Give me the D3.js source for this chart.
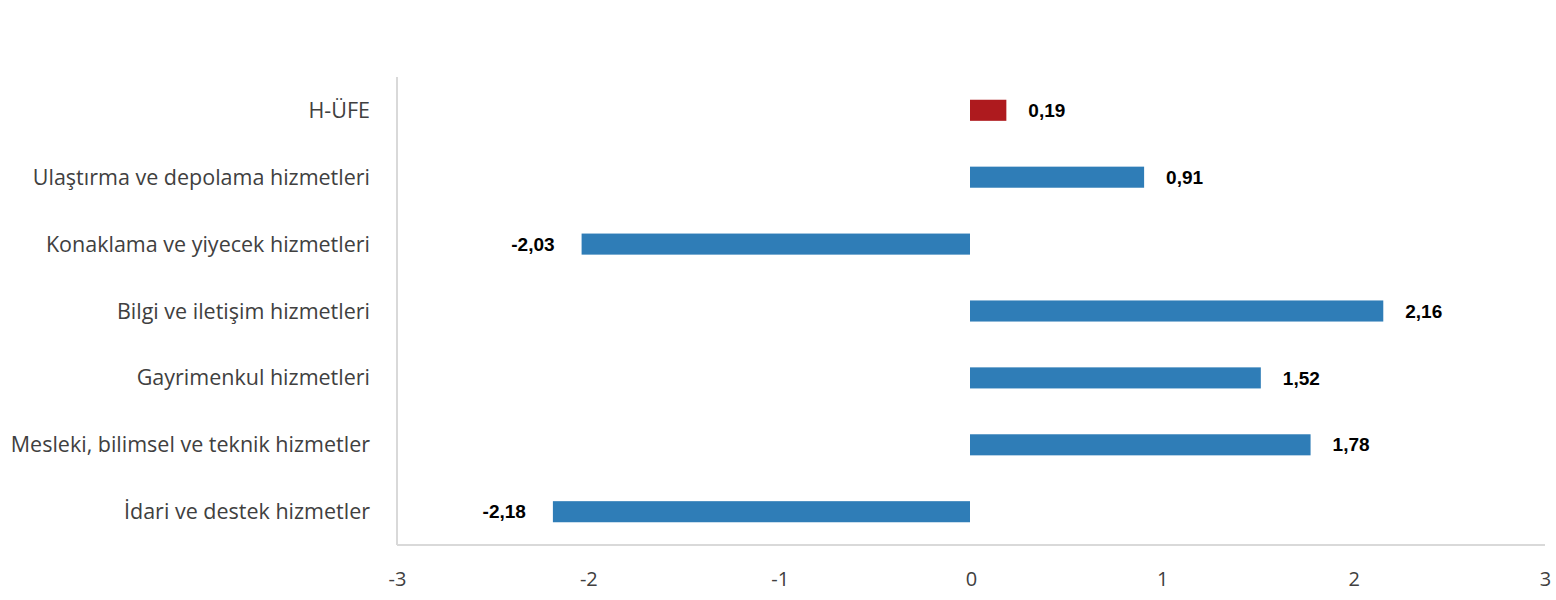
<!DOCTYPE html>
<html>
<head>
<meta charset="utf-8">
<script src="https://cdn.jsdelivr.net/npm/d3@7"></script>
<style>
  body { margin: 0; background: #fff; }
  .cat { font-family: "Open Sans", "Noto Sans", sans-serif; font-size: 21.5px; fill: #404040; }
  .tick text { font-family: "Open Sans", "Noto Sans", sans-serif; font-size: 20px; fill: #404040; }
  .val { font-family: "Liberation Sans", Arial, sans-serif; font-size: 19px; font-weight: bold; fill: #000; }
</style>
</head>
<body>
<div id="chart"></div>
<script>
// categories and values (% change)
var categories = ["H-ÜFE", "Ulaştırma ve depolama hizmetleri", "Konaklama ve yiyecek hizmetleri",
  "Bilgi ve iletişim hizmetleri", "Gayrimenkul hizmetleri",
  "Mesleki, bilimsel ve teknik hizmetler", "İdari ve destek hizmetler"];
var values = [0.19, 0.91, -2.03, 2.16, 1.52, 1.78, -2.18];
var xTicks = [-3, -2, -1, 0, 1, 2, 3];

var W = 1556, H = 600;
var mLeft = 397, mRight = 1545, mTop = 77, mBottom = 545;

var svg = d3.select("#chart").append("svg").attr("width", W).attr("height", H);

var x = d3.scaleLinear().domain([-3, 3]).range([mLeft, mRight]);
var y = d3.scaleBand().domain(categories).range([mTop, mBottom]).paddingInner(0.685).paddingOuter(0.34);

// axis lines
svg.append("line").attr("x1", mLeft).attr("x2", mLeft).attr("y1", mTop).attr("y2", mBottom)
  .attr("stroke", "#d9d9d9").attr("stroke-width", 2);
svg.append("line").attr("x1", mLeft).attr("x2", mRight).attr("y1", mBottom).attr("y2", mBottom)
  .attr("stroke", "#d9d9d9").attr("stroke-width", 2);

var xAxis = svg.append("g").attr("transform", "translate(0," + mBottom + ")")
  .call(d3.axisBottom(x).tickValues(xTicks).tickSize(0).tickPadding(27)
    .tickFormat(function(d){ return d < 0 ? "-" + Math.abs(d) : d; }));
xAxis.select(".domain").remove();

var data = categories.map(function(c, i){ return {cat: c, v: values[i]}; });

svg.selectAll(".bar").data(data).enter().append("rect")
  .attr("class", "bar")
  .attr("x", d => x(Math.min(0, d.v)) - 1)
  .attr("width", d => Math.abs(x(d.v) - x(0)))
  .attr("y", d => y(d.cat))
  .attr("height", y.bandwidth())
  .attr("fill", (d, i) => i == 0 ? "#ae1a1e" : "#2f7db7");

svg.selectAll(".cat").data(data).enter().append("text")
  .attr("class", "cat")
  .attr("x", 370)
  .attr("y", d => y(d.cat) + y.bandwidth() / 2)
  .attr("dy", "0.35em")
  .attr("text-anchor", "end")
  .text(d => d.cat);

svg.selectAll(".val").data(data).enter().append("text")
  .attr("class", "val")
  .attr("x", d => d.v >= 0 ? x(d.v) + 21 : x(d.v) - 28)
  .attr("y", d => y(d.cat) + y.bandwidth() / 2)
  .attr("dy", "0.35em")
  .attr("text-anchor", d => d.v >= 0 ? "start" : "end")
  .text(d => d3.format(".2f")(d.v).replace(".", ",").replace("\u2212", "-"));
</script>
</body>
</html>
